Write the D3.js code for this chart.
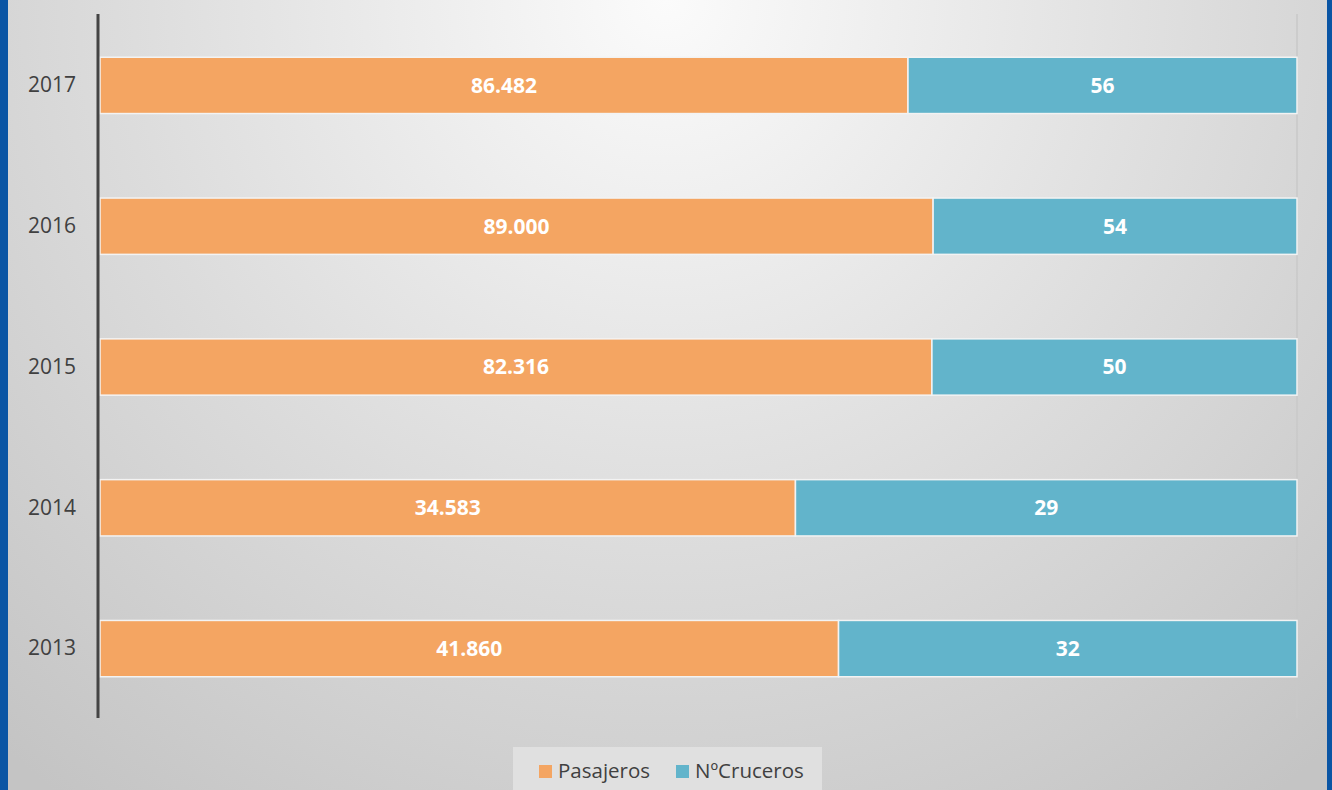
<!DOCTYPE html>
<html><head><meta charset="utf-8">
<script src="https://cdn.jsdelivr.net/npm/d3@7"></script>
<style>body{margin:0;overflow:hidden}svg{display:block}</style>
</head><body>
<svg id="c" width="1332" height="790"></svg>
<script>
const years = ["2017","2016","2015","2014","2013"];
const pasajerosLabels = ["86.482","89.000","82.316","34.583","41.860"];
const crucerosLabels = ["56","54","50","29","32"];
// share of the bar (percent) taken by each series
const pasajerosShare = [67.5, 69.6, 69.5, 58.1, 61.7];
const crucerosShare = [32.5, 30.4, 30.5, 41.9, 38.3];
const seriesNames = ["Pasajeros","NºCruceros"];
const colors = ["#F4A562","#62B4CB"];

const svg = d3.select("#c");
const W = 1332, H = 790;
const defs = svg.append("defs");
const rg = defs.append("radialGradient").attr("id","bg").attr("gradientUnits","userSpaceOnUse")
  .attr("cx",666).attr("cy",0).attr("r",1000).attr("fx",666).attr("fy",0);
rg.append("stop").attr("offset","0%").attr("stop-color","#fbfbfb");
rg.append("stop").attr("offset","55%").attr("stop-color","#dcdcdc");
rg.append("stop").attr("offset","100%").attr("stop-color","#c4c4c4");
svg.append("rect").attr("width",W).attr("height",H).attr("fill","url(#bg)");
svg.append("rect").attr("x",0).attr("y",0).attr("width",8).attr("height",H).attr("fill","#0a55a4");
svg.append("rect").attr("x",1327).attr("y",0).attr("width",5).attr("height",H).attr("fill","#0a55a4");

const x = d3.scaleLinear().domain([0,100]).range([100,1297]);
const y = d3.scaleBand().domain(years).range([15,719]).paddingInner(0.6).paddingOuter(0.3);

// right gridline
svg.append("line").attr("x1",x(100)).attr("x2",x(100)).attr("y1",14).attr("y2",718)
  .attr("stroke","#c8c8c8").attr("stroke-width",1.5);

const data = years.map((yr,i)=>({yr, p:pasajerosShare[i], c:crucerosShare[i], pl:pasajerosLabels[i], cl:crucerosLabels[i]}));
const stack = d3.stack().keys(["p","c"])(data);

stack.forEach((s,si)=>{
  svg.append("g").selectAll("rect").data(s).join("rect")
    .attr("x",d=>x(d[0])).attr("width",d=>x(d[1])-x(d[0]))
    .attr("y",d=>y(d.data.yr)).attr("height",y.bandwidth())
    .attr("fill",colors[si]).attr("stroke","#f3f3f3").attr("stroke-width",1.5);
  svg.append("g").selectAll("text").data(s).join("text")
    .attr("x",d=>(x(d[0])+x(d[1]))/2).attr("y",d=>y(d.data.yr)+y.bandwidth()/2)
    .attr("dy","0.35em").attr("text-anchor","middle")
    .attr("font-family","'Open Sans', sans-serif").attr("font-weight","bold").attr("font-size",21)
    .attr("fill","#ffffff")
    .text(d=> si===0 ? d.data.pl : d.data.cl);
});

// y axis
const yAxis = svg.append("g").attr("transform","translate(98,0)")
  .call(d3.axisLeft(y).tickSize(0).tickPadding(22));
yAxis.select(".domain").attr("stroke","#444").attr("stroke-width",3).attr("d","M0,14V718");
yAxis.selectAll("text").attr("font-family","'Open Sans', sans-serif").attr("font-size",21).attr("fill","#404040");

// legend
const lg = svg.append("g");
lg.append("rect").attr("x",513).attr("y",747).attr("width",309).attr("height",43).attr("fill","#e0e0e0");
const items = [{n:seriesNames[0],c:colors[0],x:539},{n:seriesNames[1],c:colors[1],x:676}];
items.forEach(it=>{
  lg.append("rect").attr("x",it.x).attr("y",765).attr("width",13).attr("height",13).attr("fill",it.c);
  lg.append("text").attr("x",it.x+19).attr("y",771).attr("dy","0.35em")
    .attr("font-family","'Open Sans', sans-serif").attr("font-size",20.5).attr("fill","#404040").text(it.n);
});
</script>
</body></html>
